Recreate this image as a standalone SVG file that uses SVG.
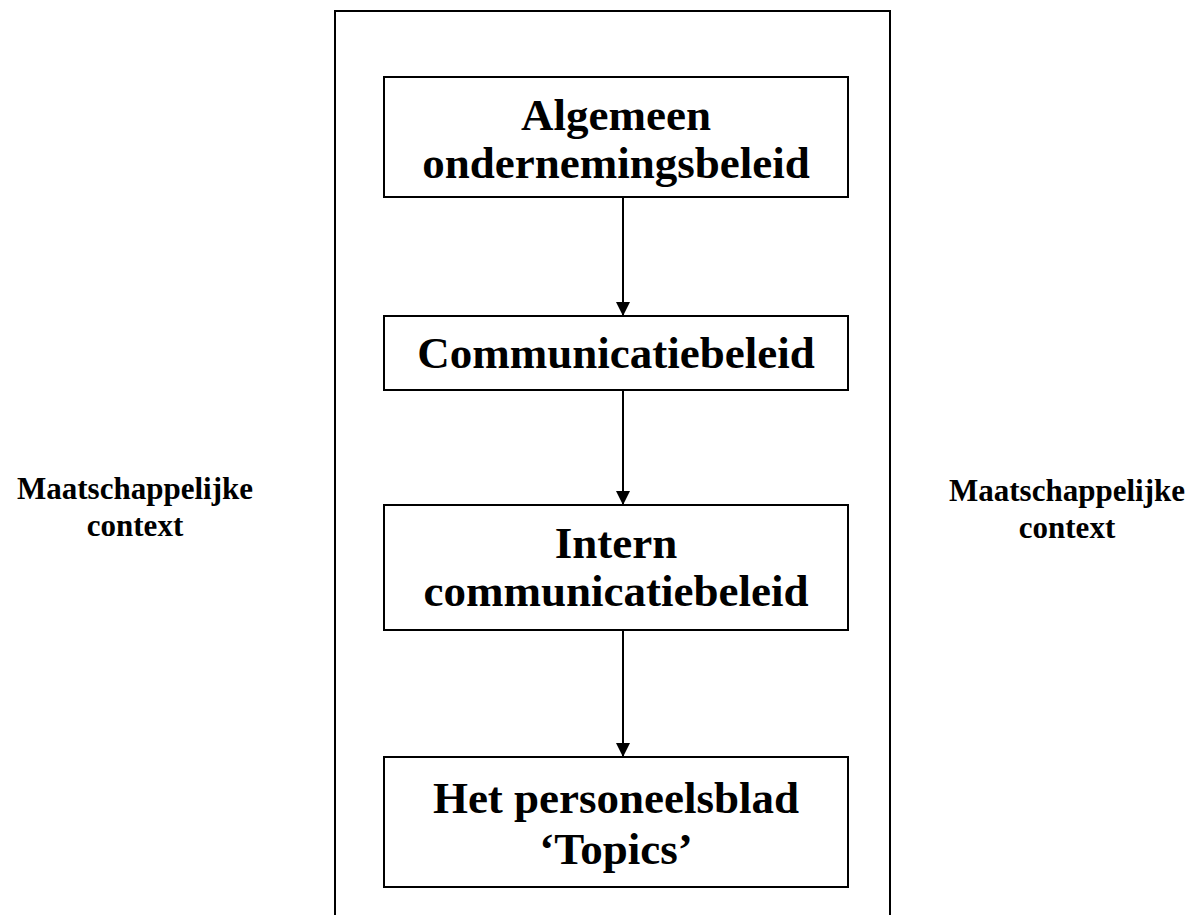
<svg xmlns="http://www.w3.org/2000/svg" width="1203" height="915" viewBox="0 0 1203 915">
<style>
.box{fill:#fff;stroke:#000;stroke-width:2}
.t{font-family:"Liberation Serif","Times New Roman",serif;font-weight:bold;font-size:45px;text-anchor:middle;fill:#000}
.s{font-family:"Liberation Serif","Times New Roman",serif;font-weight:bold;font-size:31px;text-anchor:middle;fill:#000}
.c{stroke:#000;stroke-width:2;fill:none}
</style>
<defs>
<marker id="ah" markerWidth="14" markerHeight="14" refX="14" refY="7" orient="auto" markerUnits="userSpaceOnUse">
<path d="M0,0 L14,7 L0,14 Z" fill="#000"/>
</marker>
</defs>
<rect width="1203" height="915" fill="#fff"/>
<path id="frame" d="M335,915 V11 H890 V915" fill="none" stroke="#000" stroke-width="2"/>
<g id="connectors">
<line class="c" x1="623" y1="197" x2="623" y2="316" marker-end="url(#ah)"/>
<line class="c" x1="623" y1="390" x2="623" y2="505" marker-end="url(#ah)"/>
<line class="c" x1="623" y1="630" x2="623" y2="757" marker-end="url(#ah)"/>
</g>
<g id="n1">
<rect class="box" x="384" y="77" width="464" height="120"/>
<text class="t" x="616" y="130">Algemeen</text>
<text class="t" x="616" y="178">ondernemingsbeleid</text>
</g>
<g id="n2">
<rect class="box" x="384" y="316" width="464" height="74"/>
<text class="t" x="616" y="368">Communicatiebeleid</text>
</g>
<g id="n3">
<rect class="box" x="384" y="505" width="464" height="125"/>
<text class="t" x="616" y="558">Intern</text>
<text class="t" x="616" y="606">communicatiebeleid</text>
</g>
<g id="n4">
<rect class="box" x="384" y="757" width="464" height="130"/>
<text class="t" x="616" y="813">Het personeelsblad</text>
<text class="t" x="616" y="864">‘Topics’</text>
</g>
<g id="left-label">
<text class="s" x="135" y="499">Maatschappelijke</text>
<text class="s" x="135" y="536">context</text>
</g>
<g id="right-label">
<text class="s" x="1067" y="501">Maatschappelijke</text>
<text class="s" x="1067" y="538">context</text>
</g>
</svg>
